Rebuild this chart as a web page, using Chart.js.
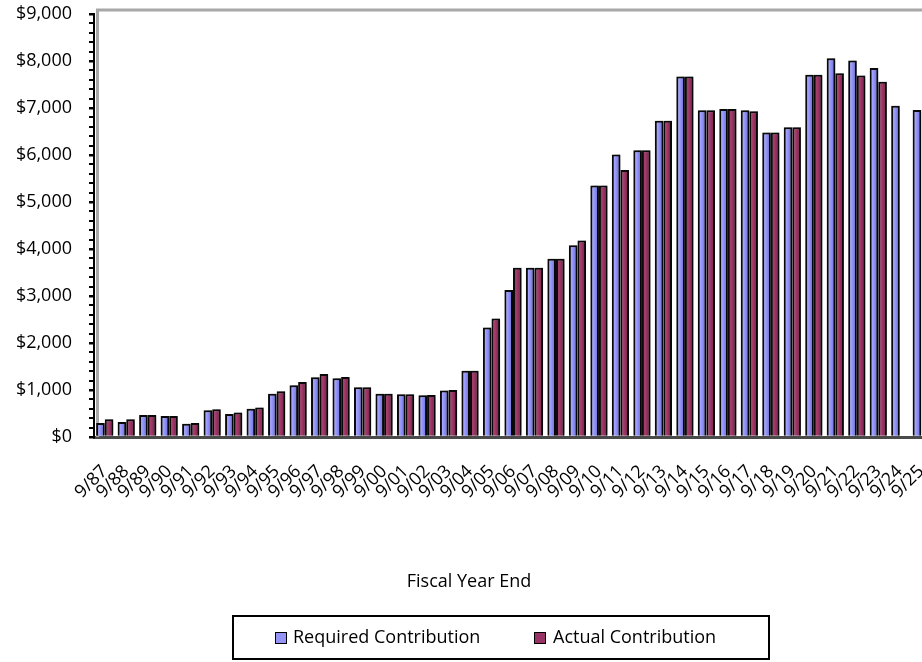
<!DOCTYPE html>
<html>
<head>
<meta charset="utf-8">
<title>Required vs Actual Contribution</title>
<script src="https://cdn.jsdelivr.net/npm/chart.js@4.4.1/dist/chart.umd.min.js"></script>
<style>
  html, body { margin: 0; padding: 0; width: 922px; height: 662px; overflow: hidden; background: #fff; }
  body { font-family: "Open Sans", sans-serif; color: #000; }
  #wrap { position: absolute; left: 0; top: 0; width: 1002px; height: 662px; }
  #chart { position: absolute; left: 0; top: 0; }
  #xtitle { position: absolute; left: 369px; width: 200px; top: 568px; text-align: center; font-size: 18px; white-space: nowrap; }
  #legend { position: absolute; left: 232px; top: 615px; width: 534px; height: 41px; border: 2px solid #000; }
  .sw { position: absolute; top: 15px; width: 10px; height: 10px; border: 1.5px solid #000; }
  .lt { position: absolute; top: 7px; font-size: 18px; line-height: 24px; white-space: nowrap; }
</style>
</head>
<body>
<div id="wrap">
  <canvas id="chart" width="1002" height="662"></canvas>
  <div id="xtitle">Fiscal Year End</div>
  <div id="legend">
    <span class="sw" id="sw1" style="left:41px"></span><span class="lt" style="left:59px">Required Contribution</span>
    <span class="sw" id="sw2" style="left:300px"></span><span class="lt" style="left:319px">Actual Contribution</span>
  </div>
</div>
<script>
// Fiscal years (September year-ends)
const fiscalYears = [
  '9/87','9/88','9/89','9/90','9/91','9/92','9/93','9/94','9/95','9/96',
  '9/97','9/98','9/99','9/00','9/01','9/02','9/03','9/04','9/05','9/06',
  '9/07','9/08','9/09','9/10','9/11','9/12','9/13','9/14','9/15','9/16',
  '9/17','9/18','9/19','9/20','9/21','9/22','9/23','9/24','9/25'
];

// Contributions, in dollars (thousands)
const requiredContribution = [
  300, 320, 470, 445, 280, 570, 490, 600, 920, 1100,
  1270, 1250, 1060, 920, 910, 890, 990, 1410, 2330, 3130,
  3600, 3790, 4080, 5350, 6010, 6100, 6730, 7670, 6950, 6980,
  6950, 6480, 6590, 7710, 8060, 8010, 7850, 7050, 6960
];
const actualContribution = [
  380, 380, 470, 445, 300, 590, 520, 630, 975, 1170,
  1340, 1275, 1060, 920, 910, 895, 1000, 1410, 2520, 3600,
  3600, 3790, 4180, 5350, 5680, 6100, 6730, 7670, 6950, 6980,
  6930, 6480, 6590, 7710, 7740, 7690, 7560, 0, null
];

// Value axis
const yMin = 0;
const yMax = 9000;
const yMinorStep = 200;
const yMajorStep = 1000;

const REQ_COLOR = '#9494f6';
const ACT_COLOR = '#993366';
document.getElementById('sw1').style.background = REQ_COLOR;
document.getElementById('sw2').style.background = ACT_COLOR;

const CAT_PCT = 0.8;

// Horizontal shading across each bar for a rounded, column-like look
function columnShade(stops, side) {
  return (ctx) => {
    const chart = ctx.chart;
    const xs = chart.scales && chart.scales.x;
    if (!xs || !chart.chartArea || ctx.dataIndex === undefined) return stops[1][1];
    const c = xs.getPixelForValue(ctx.dataIndex);
    const bw = xs.width / fiscalYears.length * CAT_PCT / 2;
    const x0 = side < 0 ? c - bw : c;
    const g = chart.ctx.createLinearGradient(x0, 0, x0 + bw, 0);
    stops.forEach(([p, col]) => g.addColorStop(p, col));
    return g;
  };
}

// Soft drop shadow behind the columns
const columnShadow = {
  id: 'columnShadow',
  beforeDatasetsDraw(chart) {
    const c = chart.ctx;
    c.save();
    c.shadowColor = 'rgba(0,0,0,0.55)';
    c.shadowBlur = 5;
    c.shadowOffsetX = 2;
    c.shadowOffsetY = 0;
  },
  afterDatasetsDraw(chart) {
    chart.ctx.restore();
  }
};

// Grey edges of the back wall of the plot
const wallEdges = {
  id: 'wallEdges',
  beforeDatasetsDraw(chart) {
    const { ctx, chartArea: a } = chart;
    ctx.save();
    ctx.strokeStyle = '#a8a8a8';
    ctx.lineWidth = 3;
    ctx.beginPath();
    ctx.moveTo(a.left + 3.5, a.bottom);
    ctx.lineTo(a.left + 3.5, a.top - 4);
    ctx.lineTo(a.right + 20, a.top - 4);
    ctx.stroke();
    ctx.restore();
  }
};

new Chart(document.getElementById('chart'), {
  type: 'bar',
  data: {
    labels: fiscalYears,
    datasets: [
      {
        label: 'Required Contribution',
        data: requiredContribution,
        backgroundColor: columnShade([[0, '#6464d4'], [0.3, '#a4a4ff'], [0.6, '#8888f0'], [1, '#6666dc']], -1),
        borderColor: '#0a0a0a',
        borderWidth: 2,
        categoryPercentage: CAT_PCT,
        barPercentage: 1.0
      },
      {
        label: 'Actual Contribution',
        data: actualContribution,
        backgroundColor: columnShade([[0, '#862656'], [0.35, '#a83e6c'], [0.7, '#882a58'], [1, '#560f32']], 1),
        borderColor: '#0a0a0a',
        borderWidth: 2,
        categoryPercentage: CAT_PCT,
        barPercentage: 1.0
      }
    ]
  },
  options: {
    responsive: false,
    animation: false,
    devicePixelRatio: 1,
    layout: { padding: { left: 4, top: 14, right: 70, bottom: 0 } },
    plugins: {
      legend: { display: false },
      tooltip: { enabled: false }
    },
    scales: {
      x: {
        offset: true,
        grid: { display: false },
        border: { display: true, color: '#4a4a4a', width: 3 },
        ticks: {
          color: '#000',
          font: { family: 'Open Sans', size: 18 },
          minRotation: 45,
          maxRotation: 45,
          autoSkip: false,
          padding: 16
        },
        afterFit(scale) {
          scale.height = 225;
          scale.paddingLeft = 0;
          scale.paddingRight = 0;
        }
      },
      y: {
        min: yMin,
        max: yMax,
        grid: {
          display: true,
          drawOnChartArea: false,
          drawTicks: true,
          tickLength: 5,
          color: '#000',
          lineWidth: (c) => (c.tick && c.tick.value % yMajorStep === 0 ? 2.5 : 2)
        },
        border: { display: true, color: '#000', width: 2 },
        ticks: {
          stepSize: yMinorStep,
          maxTicksLimit: 100,
          autoSkip: false,
          color: '#000',
          padding: 17,
          font: { family: 'Open Sans', size: 18 },
          callback: (v) => (v % yMajorStep === 0 ? '$' + Number(v).toLocaleString('en-US') : '')
        },
        afterFit(scale) {
          scale.width = 90;
          scale.paddingTop = 0;
          scale.paddingBottom = 0;
        }
      }
    }
  },
  plugins: [wallEdges, columnShadow]
});
</script>
</body>
</html>
